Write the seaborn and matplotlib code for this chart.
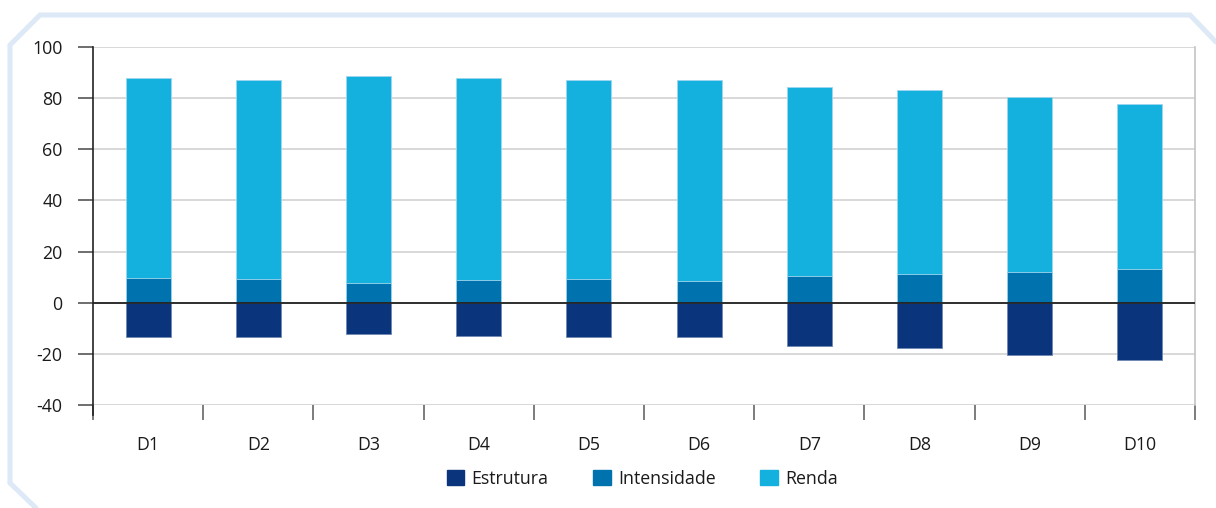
import matplotlib
matplotlib.use("Agg")
import matplotlib.pyplot as plt
import matplotlib.patches as mpatches
from matplotlib.lines import Line2D
import numpy as np
import pandas as pd
import seaborn as sns

# data
categories = ["D1", "D2", "D3", "D4", "D5", "D6", "D7", "D8", "D9", "D10"]
estrutura = [-13.3, -13.3, -12.2, -13.0, -13.3, -13.3, -16.8, -17.9, -20.6, -22.4]
intensidade = [9.7, 9.2, 7.7, 8.7, 9.4, 8.5, 10.5, 11.3, 12.0, 13.1]
renda = [78.1, 77.8, 81.1, 79.1, 77.6, 78.5, 73.7, 72.0, 68.5, 64.8]
series_names = ["Estrutura", "Intensidade", "Renda"]
colors = {"Estrutura": "#0a357c", "Intensidade": "#0072ae", "Renda": "#14b0de"}

df = pd.DataFrame({"cat": categories, "estrutura": estrutura,
                   "intensidade": intensidade, "renda": renda})
df["top"] = df["intensidade"] + df["renda"]

sns.set_theme(style="white")
plt.rcParams["font.family"] = ["Open Sans", "DejaVu Sans"]
plt.rcParams["axes.unicode_minus"] = False

fig = plt.figure(figsize=(12.16, 5.08), dpi=100)
ax = fig.add_axes([0.0765, 0.2028, 0.9062, 0.7047])

# stacked bars: draw the full stack first, then the lower layer over it
edge = dict(edgecolor="#9fd6ee", linewidth=0.6)
sns.barplot(data=df, x="cat", y="top", color=colors["Renda"], saturation=1,
            width=0.41, ax=ax, zorder=3, **edge)
sns.barplot(data=df, x="cat", y="intensidade", color=colors["Intensidade"],
            saturation=1, width=0.41, ax=ax, zorder=3, **edge)
sns.barplot(data=df, x="cat", y="estrutura", color=colors["Estrutura"],
            saturation=1, width=0.41, ax=ax, zorder=3,
            edgecolor="#6f86b3", linewidth=0.6)

ax.set_ylim(-40, 100)
ax.set_xlim(-0.5, 9.5)
ax.set_yticks(np.arange(-40, 101, 20))
ax.set_xlabel("")
ax.set_ylabel("")

ax.yaxis.grid(True, color="#d6d6d6", linewidth=1.3, zorder=0)
ax.set_axisbelow(True)
ax.axhline(0, color="#222222", linewidth=1.3, zorder=4)

for side in ["top", "bottom"]:
    ax.spines[side].set_visible(False)
ax.spines["left"].set_color("#222222")
ax.spines["left"].set_linewidth(1.2)
ax.spines["right"].set_color("#c4c4c4")
ax.spines["right"].set_linewidth(1.2)
ax.spines["left"].set_bounds(-44, 100)

ax.tick_params(axis="y", left=True, length=11, width=1.2, color="#555555",
               pad=11, labelsize=12.8, labelcolor="#1a1a1a")
ax.tick_params(axis="x", which="major", bottom=False, length=0, pad=22,
               labelsize=12.8, labelcolor="#1a1a1a")
ax.set_xticks(np.arange(-0.5, 10, 1), minor=True)
ax.tick_params(axis="x", which="minor", bottom=True, length=11, width=1.2,
               color="#666666")

handles = [mpatches.Patch(color=colors[n], label=n) for n in series_names]
fig.legend(handles=handles, loc="center", bbox_to_anchor=(0.528, 0.058),
           ncol=3, frameon=False, fontsize=12.8, handlelength=1.0,
           handleheight=1.0, handletextpad=0.4, columnspacing=2.5,
           labelcolor="#1a1a1a")

# decorative frame with cut corners
W, H = 1216, 508
frame_x = [10, 10, 40, 1190, 1216]
frame_y = [483, 45, 15, 15, 42]
fig.add_artist(Line2D(np.array(frame_x) / W, 1 - np.array(frame_y) / H,
                      transform=fig.transFigure, color="#dde9f6",
                      linewidth=3.6, solid_joinstyle="miter"))
fig.add_artist(Line2D(np.array([10, 36]) / W, 1 - np.array([483, 508]) / H,
                      transform=fig.transFigure, color="#dde9f6",
                      linewidth=3.6))

fig.savefig("out.png", dpi=100)
